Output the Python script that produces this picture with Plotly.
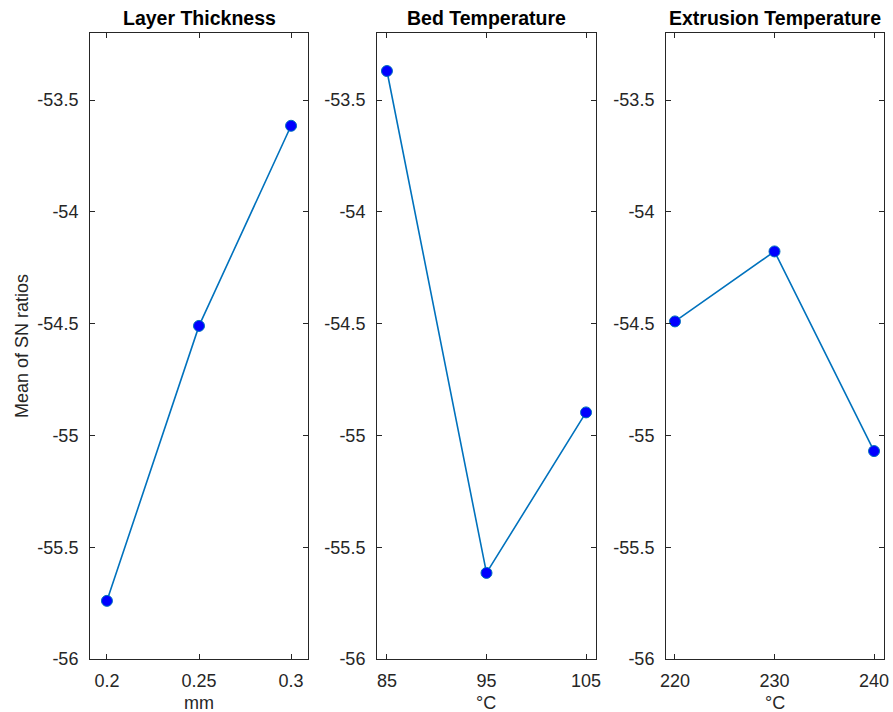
import plotly.graph_objects as go

titles = ["Layer Thickness", "Bed Temperature", "Extrusion Temperature"]
xlabels = ["mm", "°C", "°C"]
x_layer = [0.2, 0.25, 0.3]
y_layer = [-55.74, -54.51, -53.615]
x_bed = [85, 95, 105]
y_bed = [-53.37, -55.615, -54.897]
x_ext = [220, 230, 240]
y_ext = [-54.49, -54.177, -55.07]
xtickvals = [[0.2, 0.25, 0.3], [85, 95, 105], [220, 230, 240]]
xticktext = [["0.2", "0.25", "0.3"], ["85", "95", "105"], ["220", "230", "240"]]
ytickvals = [-56, -55.5, -55, -54.5, -54, -53.5]
yticktext = ["-56", "-55.5", "-55", "-54.5", "-54", "-53.5"]
ylabel = "Mean of SN ratios"

W, H = 893, 712
xs = [x_layer, x_bed, x_ext]
ys = [y_layer, y_bed, y_ext]
xranges = [[0.1908, 0.3092], [84.0, 106.0], [219.1, 241.0]]
px_dom = [(90, 308), (377, 596), (666, 884)]
ydom = [1 - 659 / H, 1 - 33 / H]

fig = go.Figure()
font_fam = "Liberation Sans, Arial, Helvetica, sans-serif"
axcol = "#262626"

for i in range(3):
    suffix = "" if i == 0 else str(i + 1)
    fig.add_trace(go.Scatter(
        x=xs[i], y=ys[i], mode="lines+markers",
        line=dict(color="#0072BD", width=1.6),
        marker=dict(color="#0000FF", size=11, line=dict(color="#0072BD", width=1)),
        xaxis="x" + suffix, yaxis="y" + suffix, showlegend=False, hoverinfo="skip",
    ))
    dom = [px_dom[i][0] / W, px_dom[i][1] / W]
    common = dict(showline=True, linecolor=axcol, linewidth=1, mirror="allticks",
                  ticks="inside", ticklen=5, tickcolor=axcol, showgrid=False,
                  zeroline=False, automargin=False,
                  tickfont=dict(family=font_fam, size=18, color=axcol))
    fig.layout["xaxis" + suffix] = dict(
        domain=dom, range=xranges[i], tickmode="array", tickvals=xtickvals[i],
        ticktext=xticktext[i], anchor="y" + suffix, ticklabelstandoff=5, **common)
    fig.layout["yaxis" + suffix] = dict(
        domain=ydom, range=[-56, -53.2], tickmode="array", tickvals=ytickvals,
        ticktext=yticktext, anchor="x" + suffix, ticklabelstandoff=7, **common)
    fig.add_annotation(
        x=(dom[0] + dom[1]) / 2, y=1 - 18 / H, xref="paper", yref="paper",
        text="<b>" + titles[i] + "</b>", showarrow=False,
        font=dict(family=font_fam, size=19.5, color="#000000"),
        xanchor="center", yanchor="middle")
    fig.add_annotation(
        x=(dom[0] + dom[1]) / 2, y=1 - 703 / H, xref="paper", yref="paper",
        text=xlabels[i], showarrow=False,
        font=dict(family=font_fam, size=18, color=axcol),
        xanchor="center", yanchor="middle")

fig.add_annotation(
    x=22 / W, y=(ydom[0] + ydom[1]) / 2, xref="paper", yref="paper",
    text=ylabel, textangle=-90, showarrow=False,
    font=dict(family=font_fam, size=18, color=axcol),
    xanchor="center", yanchor="middle")

fig.update_layout(width=W, height=H, margin=dict(l=0, r=0, t=0, b=0, pad=0),
                  plot_bgcolor="white", paper_bgcolor="white")
fig.write_html("out.html", config={"displayModeBar": False},
               post_script="document.body.style.margin='0';document.body.style.overflow='hidden';")
